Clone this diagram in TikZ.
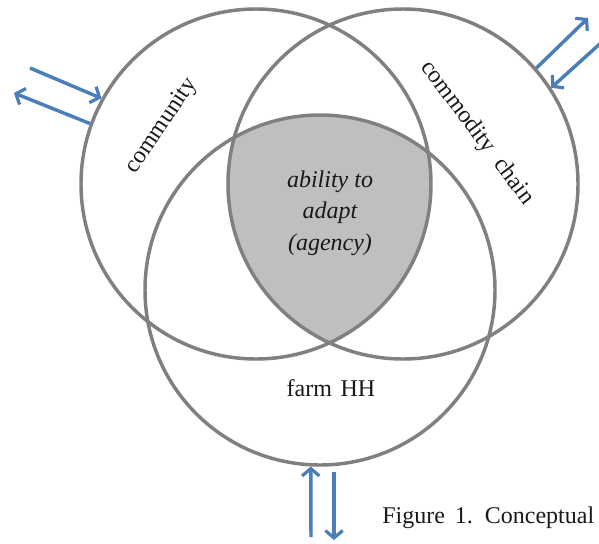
\documentclass[tikz,border=0pt]{standalone}
\usepackage{fontspec}
\setmainfont{Liberation Serif}
\usepackage{xcolor}
\usetikzlibrary{positioning, arrows.meta}

\definecolor{ringgray}{RGB}{128,128,128}
\definecolor{coregray}{RGB}{191,191,191}
\definecolor{flowblue}{RGB}{74,126,187}

\begin{document}
\begin{tikzpicture}[
  x=0.75pt, y=-0.75pt,
  ring/.style={draw=ringgray, line width=2.6pt, circle, minimum size=262.5pt, inner sep=0pt},
  flow/.style={-{Straight Barb[length=5.5pt, width=13pt, line width=2.4pt]}, draw=flowblue, line width=2.6pt},
  lbl/.style={font=\fontsize{18}{23.5}\selectfont, text=black!90, inner sep=0pt},
]
\useasboundingbox (0,0) rectangle (599,543);

% ── shaded core (overlap of all three) ──
\begin{scope}
  \clip (256,184) circle (131.25pt);
  \clip (403,184) circle (131.25pt);
  \fill[coregray] (320,290) circle (131.25pt);
\end{scope}

% ── circles ──
\node[ring] (comm) at (256,184) {};
\node[ring] (chain) at (403,184) {};
\node[ring] (farm) at (320,290) {};

% ── free arrow ends ──
\coordinate (lt) at (30,68);
\coordinate (lh) at (14,93);
\coordinate (rh) at (588,18);
\coordinate (rt) at (603,41);
\coordinate (bt) at (311,537);
\coordinate (bs) at (334,472);
\coordinate (bh) at (334,540);

% ── flows ──
\draw[flow] (lt) -- (comm.151);
\draw[flow] (comm.160) -- (lh);
\draw[flow] (chain.41) -- (rh);
\draw[flow] (rt) -- (chain.33);
\draw[flow] (bt) -- (farm.267);
\draw[flow] (bs) -- (bh);

% ── labels ──
\node[lbl, rotate=56] (commlbl) at (162,126) {community};
\node[lbl, rotate=-53] (chainlbl) at (477,133) {commodity\hspace{9pt}chain};
\node[lbl, align=center, font=\fontsize{18}{23.5}\selectfont\itshape] (core) at (330,213) {ability to\\adapt\\(agency)};
\node[lbl] (farmlbl) at (331,388) {farm\hspace{2pt} HH};
\node[lbl, anchor=west] (caption) at (382,518) {Figure\hspace{3pt} 1.\hspace{3pt} Conceptual};
\end{tikzpicture}
\end{document}
